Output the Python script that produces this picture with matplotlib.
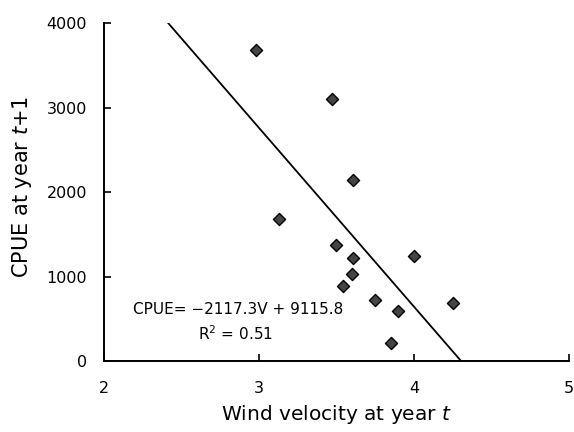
import matplotlib
matplotlib.use("Agg")
import matplotlib.pyplot as plt
import numpy as np

plt.rcParams['font.family'] = ['DejaVu Sans']

wind = [2.98, 3.47, 3.61, 3.13, 3.50, 3.61, 3.60, 3.54, 3.75, 3.90, 3.85, 4.00, 4.25]
cpue = [3690, 3100, 2140, 1680, 1380, 1220, 1035, 890, 720, 590, 210, 1245, 690]
slope = -2117.3
intercept = 9115.8
r2 = 0.51
xticks = [2, 3, 4, 5]
yticks = [0, 1000, 2000, 3000, 4000]

fig = plt.figure(figsize=(5.74, 4.32), dpi=100)
ax = fig.add_axes([0.181, 0.164, 0.810, 0.782])

# regression line limited to the visible y-range
v0 = (intercept - 4000) / -slope
v1 = (intercept - 0) / -slope
vv = np.array([v0, v1])
ax.plot(vv, slope * vv + intercept, color='black', lw=1.3)

ax.scatter(wind, cpue, marker='D', s=38, facecolor='#444444', edgecolor='black',
           linewidths=1.0, zorder=3)

ax.set_xlim(2, 5)
ax.set_ylim(0, 4000)
ax.set_xticks(xticks)
ax.set_yticks(yticks)
for s in ['top', 'right']:
    ax.spines[s].set_visible(False)
for s in ['left', 'bottom']:
    ax.spines[s].set_linewidth(1.4)
ax.tick_params(direction='in', length=5, width=1.2, labelsize=11.5)
ax.tick_params(axis='x', pad=14)
ax.tick_params(axis='y', pad=12)

ax.set_xlabel('Wind velocity at year $t$', fontsize=14.5, labelpad=6)
ax.set_ylabel('CPUE at year $t$+1', fontsize=15, labelpad=6)
ax.yaxis.set_label_coords(-0.15, 0.515)
ax.xaxis.set_label_coords(0.5, -0.125)

ax.text(2.19, 610, 'CPUE= \u22122117.3V + 9115.8', fontsize=11, va='center', ha='left')
ax.text(2.61, 320, 'R$^2$ = 0.51', fontsize=11, va='center', ha='left')

fig.savefig('out.png', dpi=100)
